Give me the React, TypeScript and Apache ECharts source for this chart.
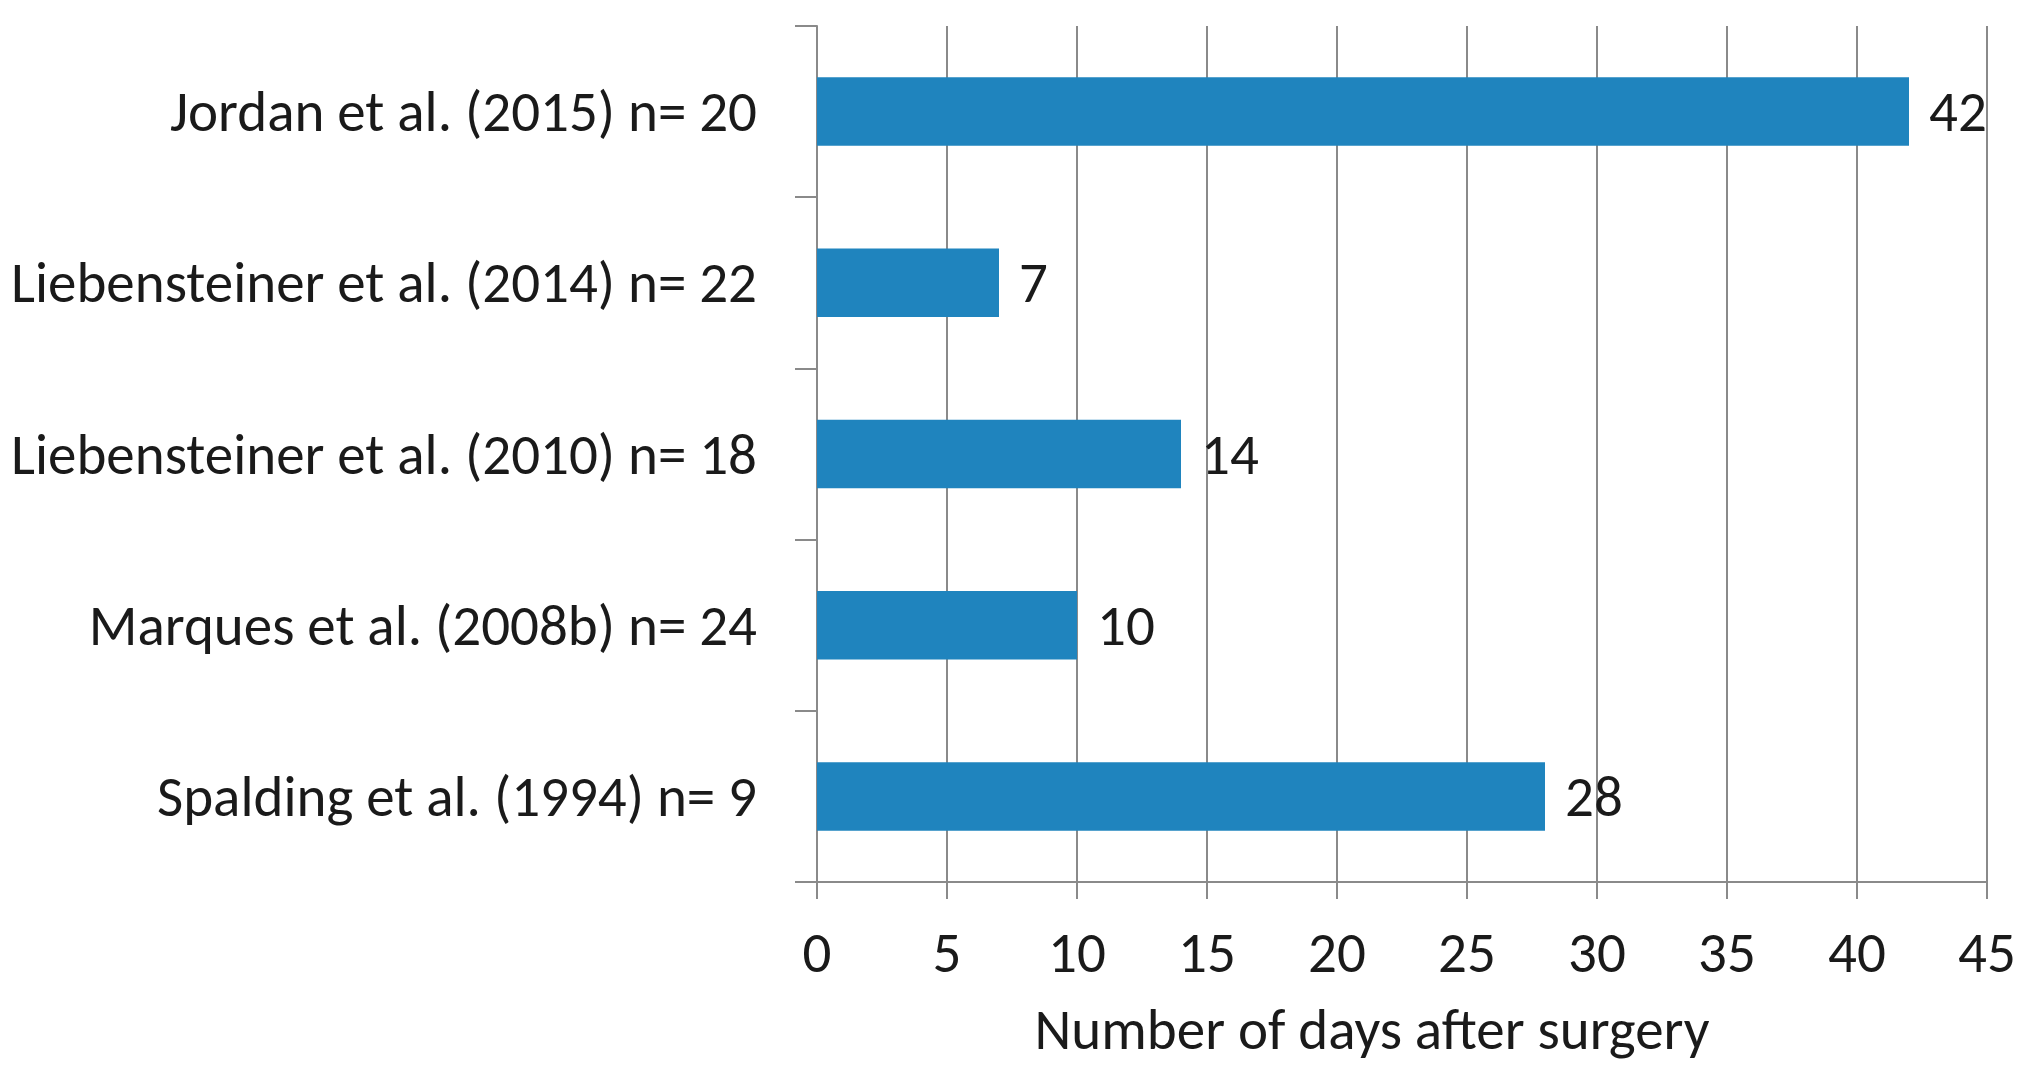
import React, { useEffect, useRef } from "react";
import * as echarts from "echarts";

const studies = [
  "Jordan et al. (2015) n= 20",
  "Liebensteiner et al. (2014) n= 22",
  "Liebensteiner et al. (2010) n= 18",
  "Marques et al. (2008b) n= 24",
  "Spalding et al. (1994) n= 9",
];
const days = [42, 7, 14, 10, 28];
const axisTitle = "Number of days after surgery";

const FONT = "Carlito, 'Liberation Sans Narrow', 'DejaVu Sans Condensed', Lato, sans-serif";
const GREY = "#8a8a8a";

export default function App() {
  const ref = useRef<HTMLDivElement>(null);
  useEffect(() => {
    document.body.style.margin = "0";
    const chart = echarts.init(ref.current!, null, { renderer: "svg" });
    chart.setOption({
      animation: false,
      backgroundColor: "#ffffff",
      grid: { left: 817, right: 43, top: 26, bottom: 195, containLabel: false },
      xAxis: {
        type: "value",
        min: 0,
        max: 45,
        interval: 5,
        name: axisTitle,
        nameLocation: "middle",
        nameGap: 119,
        nameTextStyle: { fontFamily: FONT, fontSize: 57, color: "#1a1a1a", padding: [0, 60, 0, 0] },
        axisLine: { show: true, lineStyle: { color: GREY, width: 2 } },
        axisTick: { show: true, length: 17, lineStyle: { color: GREY, width: 2 } },
        axisLabel: { margin: 42, fontFamily: FONT, fontSize: 57, color: "#1a1a1a" },
        splitLine: { show: true, lineStyle: { color: GREY, width: 2 } },
      },
      yAxis: {
        type: "category",
        data: studies,
        inverse: true,
        axisLine: { show: true, lineStyle: { color: GREY, width: 2 } },
        axisTick: { show: true, length: 22, lineStyle: { color: GREY, width: 2 } },
        axisLabel: { margin: 60, fontFamily: FONT, fontSize: 57, color: "#1a1a1a" },
        splitLine: { show: false },
      },
      series: [
        {
          type: "bar",
          data: days,
          barWidth: "40%",
          itemStyle: { color: "#1f84be" },
          label: {
            show: true,
            position: "right",
            distance: 20,
            fontFamily: FONT,
            fontSize: 57,
            color: "#1a1a1a",
          },
        },
      ],
    });
    return () => chart.dispose();
  }, []);
  return <div ref={ref} style={{ width: 2030, height: 1077 }} />;
}
